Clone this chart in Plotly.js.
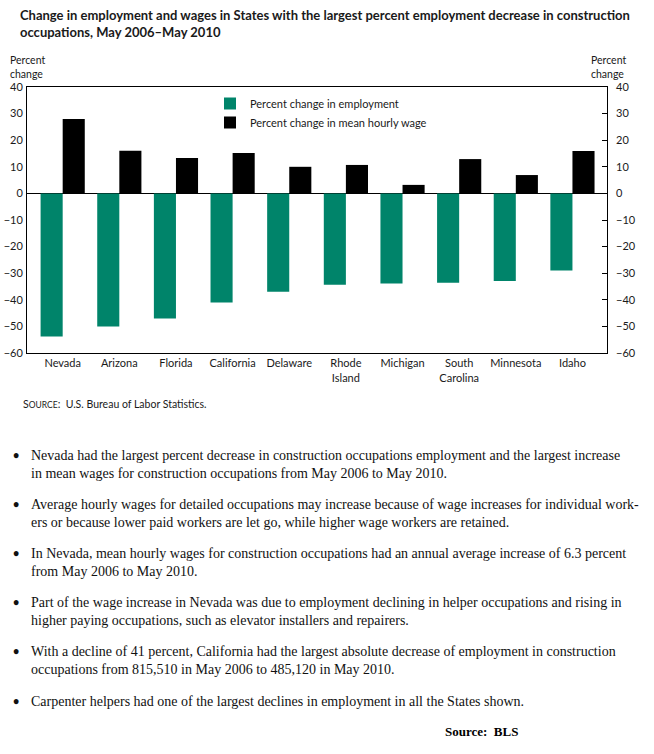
<!DOCTYPE html>
<html>
<head>
<meta charset="utf-8">
<script src="https://cdn.plot.ly/plotly-3.0.1.min.js"></script>
<style>html,body{margin:0;padding:0;background:#fff;}#chart{width:654px;height:754px;}</style>
</head>
<body>
<div id="chart"></div>
<script>
// ---- data ----
const states = ["Nevada", "Arizona", "Florida", "California", "Delaware", "Rhode<br>Island", "Michigan", "South<br>Carolina", "Minnesota", "Idaho"];
const employmentChange = [-53.8, -50.0, -47.0, -41.0, -37.0, -34.3, -33.9, -33.6, -32.9, -29.0];
const wageChange = [28.0, 16.0, 13.3, 15.2, 10.0, 10.7, 3.2, 12.9, 6.9, 15.9];
const yTicks = [40, 30, 20, 10, 0, -10, -20, -30, -40, -50, -60];
const seriesNames = ["Percent change in employment", "Percent change in mean hourly wage"];
const titleText = "Change in employment and wages in States with the largest percent employment decrease in construction<br>occupations, May 2006–May 2010";
const sourceText = "S<span style=\"font-size:8.5px\">OURCE</span>:  U.S. Bureau of Labor Statistics.";
const bullets = [
  "Nevada had the largest percent decrease in construction occupations employment and the largest increase<br>in mean wages for construction occupations from May 2006 to May 2010.",
  "Average hourly wages for detailed occupations may increase because of wage increases for individual work-<br>ers or because lower paid workers are let go, while higher wage workers are retained.",
  "In Nevada, mean hourly wages for construction occupations had an annual average increase of 6.3 percent<br>from May 2006 to May 2010.",
  "Part of the wage increase in Nevada was due to employment declining in helper occupations and rising in<br>higher paying occupations, such as elevator installers and repairers.",
  "With a decline of 41 percent, California had the largest absolute decrease of employment in construction<br>occupations from 815,510 in May 2006 to 485,120 in May 2010.",
  "Carpenter helpers had one of the largest declines in employment in all the States shown."
];
const footerText = "<b>Source:  BLS</b>";

// ---- layout helpers (pixel -> paper) ----
const W = 654, H = 754;
const mL = 27, mR = 47, mT = 87, mB = 401;
const pw = W - mL - mR, ph = H - mT - mB;
const px = x => (x - mL) / pw;
const py = y => (H - mB - y) / ph;

const sansFont = "Lato, 'Open Sans', sans-serif";
const serifFont = "'Liberation Serif', 'DejaVu Serif', serif";

const traces = [
  {type: "bar", name: seriesNames[0], x: states, y: employmentChange,
   marker: {color: "#00846A"}, hoverinfo: "x+y"},
  {type: "bar", name: seriesNames[1], x: states, y: wageChange,
   marker: {color: "#000000"}, hoverinfo: "x+y"},
  {type: "scatter", mode: "markers", x: [states[0]], y: [0], yaxis: "y2",
   marker: {opacity: 0}, showlegend: false, hoverinfo: "skip"}
];

const annotations = [
  {text: titleText, xref: "paper", yref: "paper", x: px(18), y: py(5), xanchor: "left", yanchor: "top",
   align: "left", showarrow: false, font: {family: sansFont, size: 13, color: "#1a1a1a", weight: 700}},
  {text: "Percent<br>change", xref: "paper", yref: "paper", x: px(8), y: py(52), xanchor: "left", yanchor: "top",
   align: "left", showarrow: false, font: {family: sansFont, size: 10.5, color: "#1a1a1a"}},
  {text: "Percent<br>change", xref: "paper", yref: "paper", x: px(589), y: py(52), xanchor: "left", yanchor: "top",
   align: "left", showarrow: false, font: {family: sansFont, size: 10.5, color: "#1a1a1a"}},
  {text: sourceText, xref: "paper", yref: "paper", x: px(21), y: py(404), xanchor: "left", yanchor: "middle",
   align: "left", showarrow: false, font: {family: sansFont, size: 10.5, color: "#1a1a1a"}},
  {text: footerText, xref: "paper", yref: "paper", x: px(443), y: py(731), xanchor: "left", yanchor: "middle",
   align: "left", showarrow: false, font: {family: serifFont, size: 13, color: "#000"}}
];
const bulletTops = [446, 495, 544, 593, 642, 692];
bullets.forEach((b, i) => {
  annotations.push({text: "<b>•</b>", xref: "paper", yref: "paper", x: px(11), y: py(bulletTops[i] - 2), xanchor: "left", yanchor: "top",
    align: "left", showarrow: false, font: {family: serifFont, size: 18, color: "#111"}});
  annotations.push({text: b, xref: "paper", yref: "paper", x: px(29), y: py(bulletTops[i]), xanchor: "left", yanchor: "top",
    align: "left", showarrow: false, font: {family: serifFont, size: 14, color: "#111"}});
});

const layout = {
  width: W, height: H,
  margin: {l: mL, r: mR, t: mT, b: mB, pad: 0},
  paper_bgcolor: "#fff", plot_bgcolor: "#fff",
  barmode: "group", bargap: 0.22, bargroupgap: 0,
  showlegend: true,
  legend: {x: px(210), y: py(89), xanchor: "left", yanchor: "top", bgcolor: "rgba(0,0,0,0)",
           font: {family: sansFont, size: 11, color: "#1a1a1a"}, traceorder: "normal", tracegroupgap: 0},
  font: {family: sansFont, color: "#1a1a1a"},
  xaxis: {type: "category", range: [-0.63, 9.61], showgrid: false, zeroline: false,
          showline: true, linecolor: "#000", linewidth: 1, mirror: true, ticks: "",
          tickfont: {family: sansFont, size: 11, color: "#1a1a1a"}, fixedrange: true},
  yaxis: {range: [-60, 40], tickvals: yTicks, showgrid: false, zeroline: true, zerolinecolor: "#000",
          zerolinewidth: 1, showline: true, linecolor: "#000", linewidth: 1, mirror: true, ticks: "",
          ticklabelstandoff: 1,
          tickfont: {family: sansFont, size: 11, color: "#1a1a1a"}, fixedrange: true},
  yaxis2: {range: [-60, 40], tickvals: yTicks, overlaying: "y", side: "right", showgrid: false, zeroline: false,
           showline: false, ticks: "inside", ticklen: 5, tickcolor: "#000", tickwidth: 1,
           ticklabelstandoff: 8,
           tickfont: {family: sansFont, size: 11, color: "#1a1a1a"}, fixedrange: true},
  annotations: annotations
};

Plotly.newPlot("chart", traces, layout, {displayModeBar: false, staticPlot: true});
</script>
</body>
</html>
